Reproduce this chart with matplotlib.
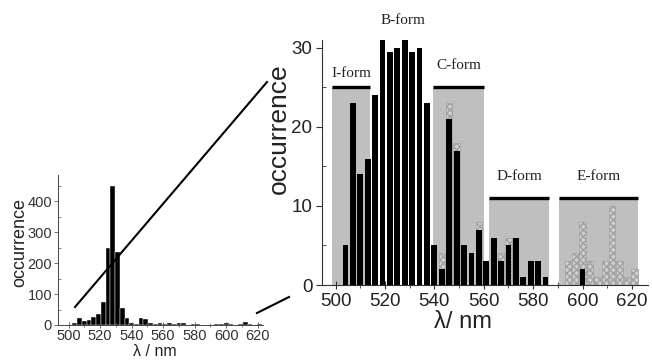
import matplotlib
matplotlib.use("Agg")
import matplotlib.pyplot as plt
from matplotlib.lines import Line2D
import numpy as np

# ---------------- data ----------------
# main panel: black bars (single-molecule occurrences, 3 nm bins)
black_wl = [504, 507, 510, 513, 516, 519, 522, 525, 528, 531, 534, 537,
            540, 543, 546, 549, 552, 555, 558, 561, 564, 567, 570, 573,
            576, 579, 582, 585, 600]
black_cnt = [5, 23, 14, 16, 24, 31, 29.5, 30, 31, 29.5, 30, 23,
             5, 2, 21, 17, 5, 4, 7, 3, 6, 3, 5, 6,
             1, 3, 3, 1, 2]

# main panel: light hatched bars
gray_wl = [543, 546, 549, 558, 567, 570,
           594, 597, 600, 603, 606, 609, 612, 615, 618, 621]
gray_cnt = [4, 23, 18, 8, 4, 6,
            3, 4, 8, 3, 1, 3, 10, 3, 1, 2]

# shaded form regions: name, start, end, level
form_names = ["I-form", "C-form", "D-form", "E-form"]
form_start = [498.5, 539.5, 562.0, 590.5]
form_end = [514.0, 560.0, 586.5, 622.5]
form_level = [25, 25, 11, 11]

# inset: ensemble histogram
inset_wl = [504, 507, 510, 513, 516, 519, 522, 525, 528, 531, 534, 537,
            540, 543, 546, 549, 552, 555, 558, 561, 564, 567, 570, 573,
            576, 579, 582, 585, 594, 597, 600, 603, 606, 609, 612, 615,
            618, 621]
inset_cnt = [5, 24, 14, 16, 25, 35, 75, 248, 450, 235, 55, 23,
             5, 4, 23, 18, 5, 4, 8, 3, 6, 4, 6, 6,
             1, 3, 3, 1, 3, 4, 8, 3, 1, 3, 10, 3,
             1, 2]

xticks = [500, 520, 540, 560, 580, 600, 620]
main_yticks = [0, 10, 20, 30]
inset_yticks = [0, 100, 200, 300, 400]

# ---------------- figure ----------------
W, H = 652, 360
fig = plt.figure(figsize=(W / 100, H / 100), dpi=100)
sans = "Liberation Sans"
serif = "Liberation Serif"

def px_axes(left, right, top, bottom):
    return fig.add_axes([left / W, 1 - bottom / H, (right - left) / W, (bottom - top) / H])

# ---- main axes ----
ax = px_axes(322, 648, 40, 285)
ax.set_xlim(494.5, 626.5)
ax.set_ylim(0, 31)

region_gray = "#bfbfbf"
for s, e, lv in zip(form_start, form_end, form_level):
    ax.bar(s, lv, width=e - s, align="edge", color=region_gray, edgecolor="none", zorder=1)
    ax.hlines(lv, s, e, color="black", lw=2.4, zorder=4)

ax.bar(gray_wl, gray_cnt, width=2.6, color="#d0d0d0", edgecolor="#a0a0a0",
       linewidth=0.5, hatch="xxxxx", zorder=2)
ax.bar(black_wl, black_cnt, width=2.35, color="black", edgecolor="none", zorder=3,
       clip_on=False)

label_dy = [1.8, 2.8, 2.7, 2.7]
for name, s, e, lv, dy in zip(form_names, form_start, form_end, form_level, label_dy):
    ax.text((s + e) / 2, lv + dy, name, ha="center", va="center",
            fontsize=11, family=serif, color="#222222", zorder=5)
ax.text(527.3, 33.5, "B-form", ha="center", va="center", fontsize=11,
        family=serif, color="#222222", clip_on=False)

for sp in ["top", "right"]:
    ax.spines[sp].set_visible(False)
for sp in ["left", "bottom"]:
    ax.spines[sp].set_linewidth(0.8)
    ax.spines[sp].set_color("#333333")

ax.set_xticks(xticks)
ax.set_xticks(np.arange(500, 630, 10), minor=True)
ax.set_yticks(main_yticks)
ax.set_yticks([5, 15, 25], minor=True)
ax.tick_params(axis="x", which="major", direction="inout", length=6, width=0.8,
               pad=2.5, labelsize=13.5, colors="#333333", labelcolor="#222222")
ax.tick_params(axis="x", which="minor", direction="inout", length=4, width=0.6, colors="#333333")
ax.tick_params(axis="y", which="major", direction="out", length=4, width=0.8,
               pad=3, labelsize=13.5, colors="#333333", labelcolor="#222222")
ax.tick_params(axis="y", which="minor", direction="in", length=3, width=0.6, colors="#333333")
for lab in ax.get_xticklabels() + ax.get_yticklabels():
    lab.set_family(sans)

ax.set_ylabel("occurrence", fontsize=19, family=sans, color="#222222")
ax.yaxis.set_label_coords(-0.094, 0.637)
ax.set_xlabel("λ/ nm", fontsize=17, family=sans, color="#222222")
ax.xaxis.set_label_coords(0.432, -0.108)

# ---- inset axes ----
ai = px_axes(58.3, 263.3, 175, 325)
ai.set_xlim(493.5, 623.5)
ai.set_ylim(0, 484)
ai.bar(inset_wl, inset_cnt, width=3.0, color="black", edgecolor="white", linewidth=0.3)
for sp in ["top", "right"]:
    ai.spines[sp].set_visible(False)
for sp in ["left", "bottom"]:
    ai.spines[sp].set_linewidth(0.7)
    ai.spines[sp].set_color("#444444")
ai.set_xticks(xticks)
ai.set_xticks(np.arange(500, 630, 10), minor=True)
ai.set_yticks(inset_yticks)
ai.set_yticks(np.arange(50, 480, 100), minor=True)
ai.tick_params(axis="x", which="major", direction="inout", length=4, width=0.6,
               pad=1, labelsize=10.5, colors="#555555", labelcolor="#333333")
ai.tick_params(axis="x", which="minor", direction="inout", length=2.5, width=0.5, colors="#555555")
ai.tick_params(axis="y", which="major", direction="out", length=3, width=0.6,
               pad=1.5, labelsize=10.5, colors="#555555", labelcolor="#333333")
ai.tick_params(axis="y", which="minor", direction="in", length=2, width=0.5, colors="#555555")
for lab in ai.get_xticklabels() + ai.get_yticklabels():
    lab.set_family(sans)
ai.set_ylabel("occurrence", fontsize=13, family=sans, color="#222222")
ai.yaxis.set_label_coords(-0.148, 0.55)
ai.set_xlabel("λ / nm", fontsize=11.5, family=sans, color="#222222")
ai.xaxis.set_label_coords(0.472, -0.13)

# ---- connecting lines (zoom indication) ----
def fig_line(x0, y0, x1, y1):
    fig.add_artist(Line2D([x0 / W, x1 / W], [1 - y0 / H, 1 - y1 / H],
                          color="black", lw=1.5, transform=fig.transFigure))

fig_line(75, 307, 267, 82)
fig_line(257, 313, 289, 297)

fig.savefig("out.png", dpi=100)
